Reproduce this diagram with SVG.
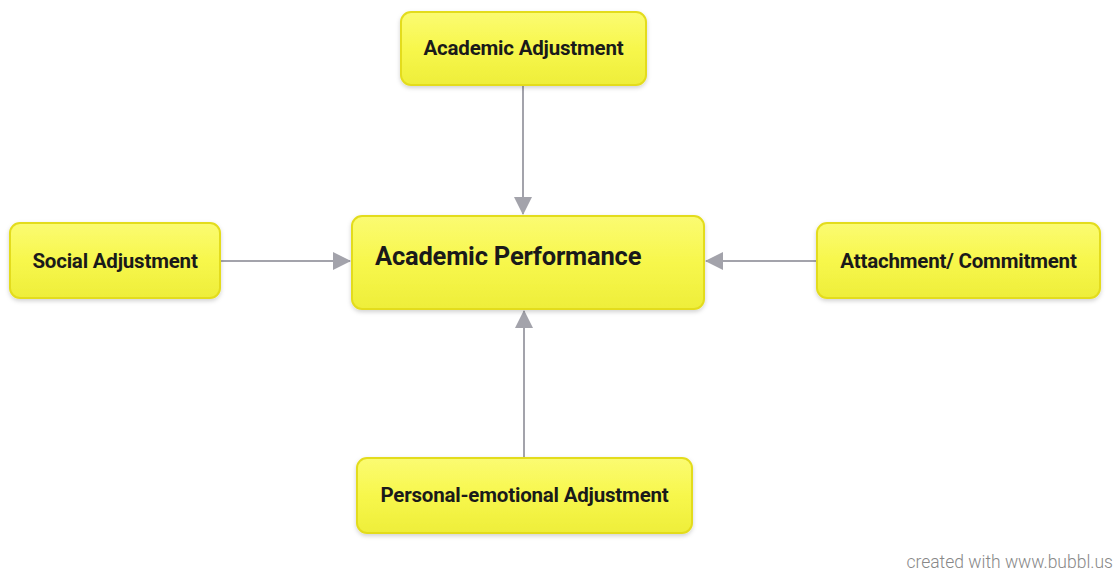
<svg xmlns="http://www.w3.org/2000/svg" width="1117" height="571" viewBox="0 0 1117 571">
<defs>
<linearGradient id="yg" x1="0" y1="0" x2="0" y2="1">
<stop offset="0" stop-color="#fbfb72"/>
<stop offset="0.5" stop-color="#f7f74c"/>
<stop offset="1" stop-color="#eeee3a"/>
</linearGradient>
<filter id="sh" x="-10%" y="-10%" width="120%" height="130%">
<feDropShadow dx="0" dy="2" stdDeviation="2" flood-color="#000" flood-opacity="0.18"/>
</filter>
<marker id="ah2" markerWidth="18" markerHeight="18" refX="17" refY="9" orient="auto" markerUnits="userSpaceOnUse" viewBox="0 0 18 18">
<path d="M0,0 L18,9 L0,18 Z" fill="#a3a3ab"/>
</marker>
</defs>
<style>
.box{fill:url(#yg);stroke:#e3dc1e;stroke-width:2;filter:url(#sh)}
.t{font-family:Roboto,"Liberation Sans",sans-serif;font-weight:bold;fill:#1a1a1a;font-size:20.5px;letter-spacing:-0.2px}
.big{font-size:25.5px}
.c{stroke:#a3a3ab;stroke-width:2;fill:none;marker-end:url(#ah2)}
.foot{font-family:Roboto,"Liberation Sans",sans-serif;font-weight:300;font-size:17.5px;fill:#888}
</style>
<rect width="1117" height="571" fill="#fff"/>
<g id="connectors">
<line class="c" x1="523" y1="86" x2="523" y2="214"/>
<line class="c" x1="221" y1="261" x2="350" y2="261"/>
<line class="c" x1="817" y1="261" x2="706" y2="261"/>
<line class="c" x1="524" y1="458" x2="524" y2="311"/>
</g>
<g id="node-academic-adjustment">
<rect class="box" x="401" y="12" width="245" height="73" rx="10"/>
<text class="t" x="523.5" y="55" text-anchor="middle">Academic Adjustment</text>
</g>
<g id="node-academic-performance">
<rect class="box" x="352" y="216" width="352" height="93" rx="10"/>
<text class="t big" x="375" y="265">Academic Performance</text>
</g>
<g id="node-social-adjustment">
<rect class="box" x="10" y="223" width="210" height="75" rx="10"/>
<text class="t" x="115" y="268" text-anchor="middle">Social Adjustment</text>
</g>
<g id="node-attachment">
<rect class="box" x="817" y="223" width="283" height="75" rx="10"/>
<text class="t" x="958.5" y="268" text-anchor="middle">Attachment/ Commitment</text>
</g>
<g id="node-personal">
<rect class="box" x="357" y="458" width="335" height="75" rx="10"/>
<text class="t" x="524.5" y="502" text-anchor="middle">Personal-emotional Adjustment</text>
</g>
<text class="foot" x="1113" y="568" text-anchor="end">created with www.bubbl.us</text>
</svg>
